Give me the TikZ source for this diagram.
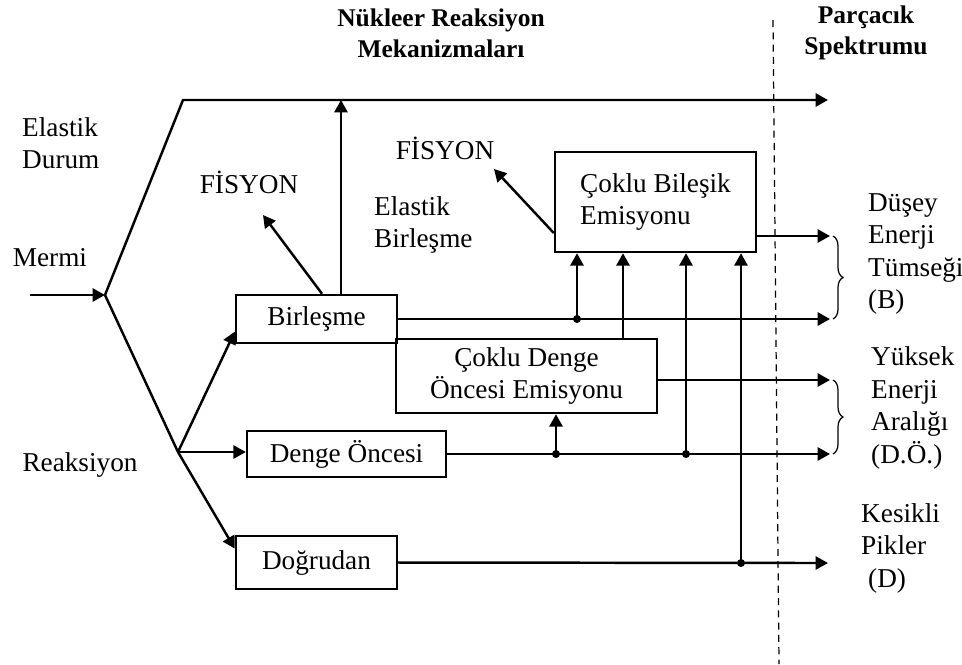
\documentclass[tikz,border=0pt]{standalone}
\usepackage{fontspec}
\setmainfont{Liberation Serif}
\usetikzlibrary{arrows.meta,positioning,calc,decorations.pathreplacing}

\begin{document}
\begin{tikzpicture}[
    x=0.02cm, y=-0.02cm, line width=1.4pt,
    txt/.style={font=\fontsize{15.5}{18.5}\selectfont, inner sep=0pt},
    head/.style={font=\fontsize{14.5}{17.6}\selectfont\bfseries, align=center, inner sep=0pt},
    blok/.style={draw, txt, align=center},
    arr/.style={-{Triangle[length=7pt,width=7.4pt]}},
    brc/.style={decorate, decoration={brace, amplitude=0.2cm}, line width=0.7pt}
  ]
  \useasboundingbox (0,0) rectangle (962,664);

  % mechanism boxes
  \node[blok, minimum width=3.22cm, minimum height=0.96cm] (bir) at (316.5,319) {Birleşme};
  \node[blok, minimum width=3.98cm, minimum height=0.92cm] (dng) at (346.5,454) {Denge Öncesi};
  \node[blok, minimum width=3.22cm, minimum height=1.06cm] (dog) at (316.5,562.5) {Doğrudan};
  \node[blok, minimum width=5.22cm, minimum height=1.48cm] (cde) at (526.5,376) {Çoklu Denge\\Öncesi Emisyonu};
  \node[blok, align=left, minimum width=4.02cm, minimum height=2cm] (cbe) at (655.5,202) {Çoklu Bileşik\\Emisyonu};

  % labels
  \node[head] (ttl1) at (441,33) {Nükleer Reaksiyon\\Mekanizmaları};
  \node[head] (ttl2) at (866,33) {Parçacık\\Spektrumu};
  \node[txt, align=left, anchor=west] (eld) at (21,143) {Elastik\\Durum};
  \node[txt] (mer) at (50,258) {Mermi};
  \node[txt] (rea) at (80,465) {Reaksiyon};
  \node[txt] (fis1) at (249,182) {FİSYON};
  \node[txt] (fis2) at (445,148) {FİSYON};
  \node[txt, align=left, anchor=west] (elb) at (373,225) {Elastik\\Birleşme};
  \node[txt, align=left, anchor=west] (dus) at (867,254) {Düşey\\Enerji\\Tümseği\\(B)};
  \node[txt, align=left, anchor=west] (yuk) at (870,408) {Yüksek\\Enerji\\Aralığı\\(D.Ö.)};
  \node[txt, align=left, anchor=west] (kes) at (860,548) {Kesikli\\Pikler\\\hspace*{0.14cm}(D)};

  \coordinate (src) at (30,295);
  \coordinate (spl) at (105,295);
  \coordinate (elk) at (183,100);
  \coordinate (elEnd) at (828,100);
  \coordinate (brn) at (178,452);
  \coordinate (fis1End) at (263,215);
  \coordinate (fis2End) at (494,169);
  \coordinate (bTop) at (830,236);
  \coordinate (bBot) at (830,319);
  \coordinate (yTop) at (830,380);
  \coordinate (yBot) at (830,454);
  \coordinate (dEnd) at (828,563);
  \coordinate (dsh1) at (773,20);
  \coordinate (dsh2) at (779,664);

  % incoming and branches
  \draw[arr] (src) -- (spl);
  \draw[arr] (spl) -- (elk) -- (elEnd);
  \draw (spl) -- (brn);
  \draw[arr] (brn) -- ($(bir.west)!0.5!(bir.south west)$);
  \draw[arr] (brn) -- (brn -| dng.west);
  \draw[arr] (brn) -- ($(dog.west)!0.5!(dog.north west)$);
  \draw[arr] ([xshift=0.49cm]bir.north) -- ([xshift=0.49cm]bir.north |- elk);
  \draw[arr] ([xshift=0.11cm]bir.north) -- (fis1End);
  \draw[arr] ([yshift=-0.62cm]cbe.west) -- (fis2End);

  % outputs to the spectrum
  \draw[arr] (cbe.east |- bTop) -- (bTop);
  \draw[arr] (bir.east) -- (bBot);
  \draw[arr] (cde.east |- yTop) -- (yTop);
  \draw[arr] (dng.east) -- (yBot);
  \draw[arr] (dog.east) -- (dEnd);

  % feeds into the multi emission boxes
  \coordinate (j1) at (577,319);
  \coordinate (j2) at (623,339);
  \coordinate (j3) at (686,454);
  \coordinate (j4) at (741,563);
  \coordinate (j5) at (556,454);
  \draw[arr] (j1) -- (j1 |- cbe.south);
  \draw[arr] (j2 |- cde.north) -- (j2 |- cbe.south);
  \draw[arr] (j3) -- (j3 |- cbe.south);
  \draw[arr] (j4) -- (j4 |- cbe.south);
  \draw[arr] (j5) -- (j5 |- cde.south);
  \foreach \j in {j1,j3,j4,j5}
    \fill (\j) circle (0.08cm);

  \draw[brc] ([xshift=0.06cm]bTop) -- ([xshift=0.06cm]bBot);
  \draw[brc] ([xshift=0.06cm]yTop) -- ([xshift=0.06cm]yBot);

  \draw[line width=0.7pt, dash pattern=on 4pt off 3pt] (dsh1) -- (dsh2);
\end{tikzpicture}
\end{document}
